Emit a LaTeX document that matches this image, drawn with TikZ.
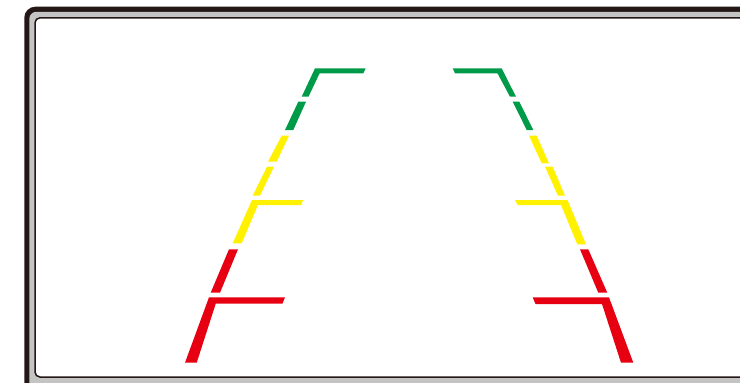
\documentclass[tikz,border=0pt]{standalone}
\definecolor{gGreen}{HTML}{009B48}
\definecolor{gYellow}{HTML}{FFF100}
\definecolor{gRed}{HTML}{E60012}
\definecolor{frameDark}{HTML}{231815}
\definecolor{frameGray}{HTML}{C4C4C4}
\tikzset{
  guide/.style={draw=none},
  gpiece/.style={fill=gGreen},
  ypiece/.style={fill=gYellow},
  rpiece/.style={fill=gRed}
}
\begin{document}
\begin{tikzpicture}[x=1pt,y=-1pt]
\useasboundingbox (0,0) rectangle (740,383);
\clip (0,0) rectangle (740,383);
% frame
\fill[frameDark, rounded corners=11pt] (24.3,6.7) rectangle (800,420);
\fill[frameGray, rounded corners=7pt] (29.3,11.8) rectangle (795,415);
\draw[frameDark, line width=1.5pt, fill=white, rounded corners=5pt] (35,17.8) rectangle (790,377);
% left guide
\fill[gpiece] (315,68.3) -- (365.7,68.3) -- (363.3,73.3) -- (319.6,73.3) -- (308.5,96.7) -- (301.7,96.7) -- cycle;
\fill[gpiece] (298.3,101.7) -- (306,101.7) -- (293.3,130) -- (285,130) -- cycle;
\fill[ypiece] (281.7,135.7) -- (289,135.7) -- (276.7,161.7) -- (268,161.7) -- cycle;
\fill[ypiece] (267,166.7) -- (274,166.7) -- (260,195.7) -- (252.7,195.7) -- cycle;
\fill[ypiece] (252,200) -- (303.3,200) -- (301,205) -- (258,205) -- (241.7,243.3) -- (232.7,243.3) -- cycle;
\fill[rpiece] (229,249.3) -- (238,249.3) -- (220,292.7) -- (210.7,292.7) -- cycle;
\fill[rpiece] (209,297.3) -- (285,297.3) -- (282.5,303.5) -- (215.8,303.5) -- (196.7,362.7) -- (185,362.7) -- cycle;
% right guide
\fill[gpiece] (501.7,68.3) -- (452.7,68.3) -- (455,73.3) -- (497.5,73.3) -- (510,96.7) -- (516,96.7) -- cycle;
\fill[gpiece] (512.7,101.7) -- (519.3,101.7) -- (533.3,130) -- (526.7,130) -- cycle;
\fill[ypiece] (529,135.7) -- (536.7,135.7) -- (549,163.3) -- (541.7,163.3) -- cycle;
\fill[ypiece] (545,166.7) -- (552.7,166.7) -- (565,195.7) -- (558,195.7) -- cycle;
\fill[ypiece] (567.5,200) -- (515,200) -- (517.5,205) -- (561,205) -- (577.3,244.3) -- (586,244.3) -- cycle;
\fill[rpiece] (580,249.3) -- (588.3,249.3) -- (607.3,292.7) -- (598.3,292.7) -- cycle;
\fill[rpiece] (609,297.3) -- (532.7,297.3) -- (535.5,304) -- (602,304) -- (621,362.7) -- (633.3,362.7) -- cycle;
\end{tikzpicture}
\end{document}
